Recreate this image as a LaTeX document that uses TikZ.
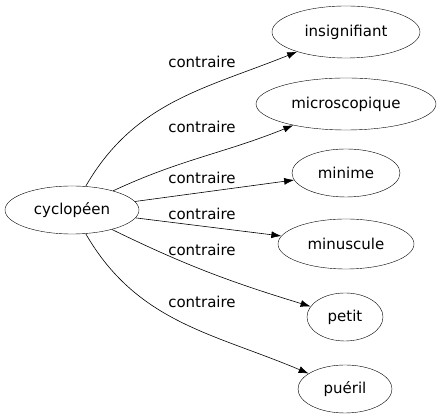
\documentclass[tikz,border=0pt]{standalone}
\usepackage{fontspec}
\setmainfont{DejaVu Sans}
\usepackage{tikz}
\usetikzlibrary{shapes.geometric}
\usetikzlibrary{arrows.meta}

\begin{document}
\begin{tikzpicture}[x=1pt,y=1pt,
  mot/.style={draw,ellipse,inner sep=0pt,font=\fontsize{15}{17}\selectfont},
  lien/.style={line width=0.6pt,-{Latex[length=10pt,width=7pt]}},
  etiq/.style={font=\fontsize{15}{17}\selectfont}]
\useasboundingbox (0,0) rectangle (442,419);
\node [mot,minimum width=134,minimum height=48] (cyclopeen) at (72,209) {cyclopéen};
\node [mot,minimum width=148,minimum height=52] (insignifiant) at (346,387) {insignifiant};
\node [mot,minimum width=180,minimum height=52] (microscopique) at (346,315) {microscopique};
\node [mot,minimum width=108,minimum height=48] (minime) at (346,246) {minime};
\node [mot,minimum width=136,minimum height=50] (minuscule) at (346,175) {minuscule};
\node [mot,minimum width=76,minimum height=48] (petit) at (345,102) {petit};
\node [mot,minimum width=94,minimum height=48] (pueril) at (345,30) {puéril};

\draw [lien] (cyclopeen) to[out=60,in=202] (insignifiant);
\draw [lien] (cyclopeen) to[out=25,in=202] (microscopique);
\draw [lien] (cyclopeen) -- (minime);
\draw [lien] (cyclopeen) -- (minuscule);
\draw [lien] (cyclopeen) to[out=-26,in=163] (petit);
\draw [lien] (cyclopeen) to[out=-60,in=157] (pueril);

\node [etiq] (e1) at (202,357) {contraire};
\node [etiq] (e2) at (202,292) {contraire};
\node [etiq] (e3) at (202,241) {contraire};
\node [etiq] (e4) at (202,205) {contraire};
\node [etiq] (e5) at (202,169) {contraire};
\node [etiq] (e6) at (202,117) {contraire};
\end{tikzpicture}
\end{document}
